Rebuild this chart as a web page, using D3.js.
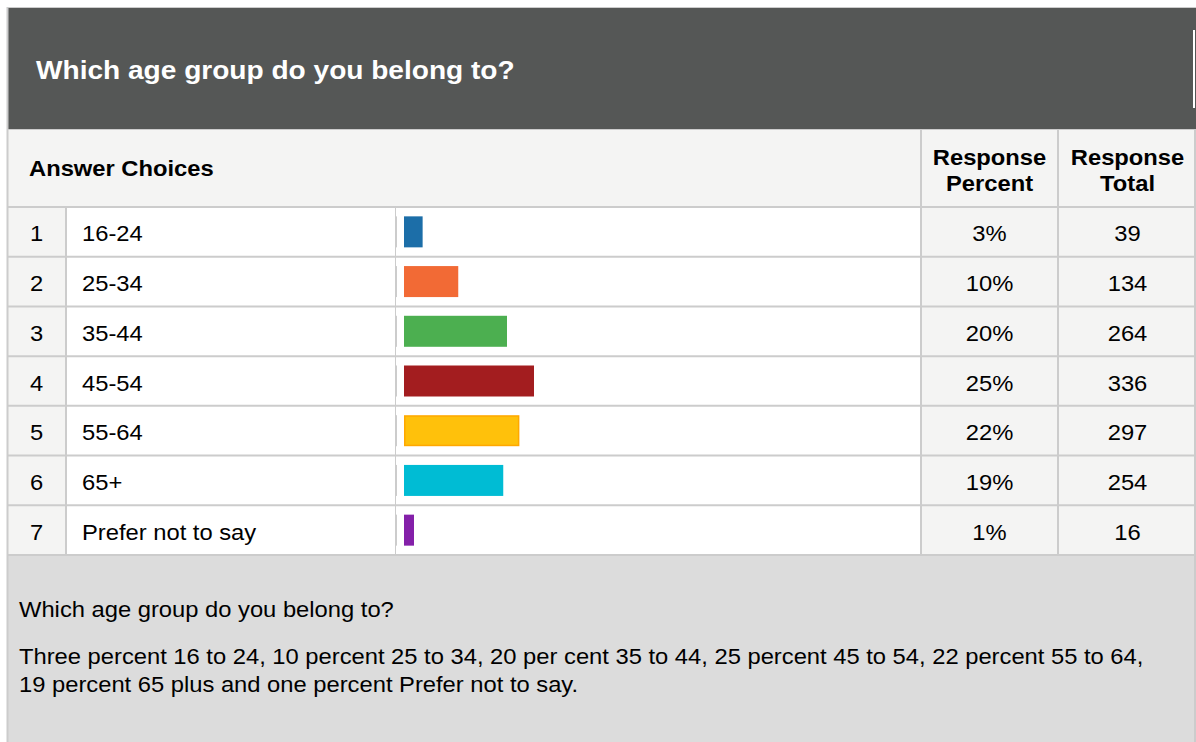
<!DOCTYPE html>
<html>
<head>
<meta charset="utf-8">
<script src="https://cdn.jsdelivr.net/npm/d3@7"></script>
<style>
  html, body { margin: 0; padding: 0; background: #ffffff; }
  svg { display: block; }
  text { font-family: "Liberation Sans", Arial, sans-serif; }
</style>
</head>
<body>
<div id="chart"></div>
<script>
// ---- Data ----
const title = "Which age group do you belong to?";
const rowNumbers = [1, 2, 3, 4, 5, 6, 7];
const categories = ["16-24", "25-34", "35-44", "45-54", "55-64", "65+", "Prefer not to say"];
const percents = [3, 10, 20, 25, 22, 19, 1];
const totals = [39, 134, 264, 336, 297, 254, 16];
const barColors = ["#1c6ea8", "#f26a35", "#4caf50", "#a31d1f", "#ffc10b", "#00bcd4", "#8420a9"];
const barStrokes = [null, null, null, null, "#ffa800", null, null];
const columnHeaders = ["Answer Choices", ["Response", "Percent"], ["Response", "Total"]];
const summaryTitle = "Which age group do you belong to?";
const summaryLines = [
  "Three percent 16 to 24, 10 percent 25 to 34, 20 per cent 35 to 44, 25 percent 45 to 54, 22 percent 55 to 64,",
  "19 percent 65 plus and one percent Prefer not to say."
];

// ---- Layout ----
const W = 1196, H = 742;
const SX = 1.08; // horizontal text stretch
const border = "#cccccc";
const shade = "#f4f4f3";

const svg = d3.select("#chart").append("svg").attr("width", W).attr("height", H);

function txt(g, x, y, s, size, weight, anchor, fill) {
  return g.append("text")
    .attr("transform", `translate(${x},${y}) scale(${SX},1)`)
    .attr("text-anchor", anchor || "start")
    .style("font-size", size + "px")
    .style("font-weight", weight || "normal")
    .attr("fill", fill || "#000")
    .text(s);
}

const L = 7, R = 1195;
const colNum = [L, 66], colLabel = [66, 396], colBar = [396, 921], colPct = [921, 1058], colTot = [1058, R];

// outer
svg.append("rect").attr("x", L).attr("y", 7).attr("width", R - L + 1).attr("height", H - 7).attr("fill", "#dcdcdc");

// header dark band
svg.append("rect").attr("x", L + 1).attr("y", 8).attr("width", W - L - 1).attr("height", 121).attr("fill", "#555756");
svg.append("rect").attr("x", 1193).attr("y", 30).attr("width", 2).attr("height", 78).attr("fill", "#ffffff");
svg.append("line").attr("x1", L).attr("x2", W).attr("y1", 7.5).attr("y2", 7.5).attr("stroke", border);
txt(svg, 36, 79, title, 26, "bold", "start", "#ffffff");

// column header row
const hdrTop = 130, hdrBot = 207;
svg.append("rect").attr("x", L + 1).attr("y", 129).attr("width", R - L).attr("height", 1.5).attr("fill", border);
svg.append("rect").attr("x", L + 1).attr("y", hdrTop).attr("width", R - L - 1).attr("height", hdrBot - hdrTop).attr("fill", shade);
txt(svg, 29, 176, columnHeaders[0], 22, "bold");
txt(svg, (colPct[0] + colPct[1]) / 2, 165, columnHeaders[1][0], 22, "bold", "middle");
txt(svg, (colPct[0] + colPct[1]) / 2, 191, columnHeaders[1][1], 22, "bold", "middle");
txt(svg, (colTot[0] + colTot[1]) / 2 + 1, 165, columnHeaders[2][0], 22, "bold", "middle");
txt(svg, (colTot[0] + colTot[1]) / 2 + 1, 191, columnHeaders[2][1], 22, "bold", "middle");

// rows
const y = d3.scaleBand().domain(categories).range([hdrBot, 555]);
const x = d3.scaleLinear().domain([0, d3.max(totals)]).range([4, 130]);
const barX0 = 404, barH = 31;

const rows = svg.append("g");
categories.forEach((c, i) => {
  const top = y(c), h = y.bandwidth();
  rows.append("rect").attr("x", colNum[0] + 1).attr("y", top).attr("width", colNum[1] - colNum[0] - 1).attr("height", h).attr("fill", shade);
  rows.append("rect").attr("x", colLabel[0]).attr("y", top).attr("width", colBar[1] - colLabel[0]).attr("height", h).attr("fill", "#ffffff");
  rows.append("rect").attr("x", colPct[0]).attr("y", top).attr("width", colTot[1] - colPct[0]).attr("height", h).attr("fill", shade);
});

// grid lines
const grid = svg.append("g").attr("stroke", border).attr("fill", "none");
[hdrBot].concat(categories.map(c => y(c) + y.bandwidth())).forEach(v => {
  grid.append("line").attr("x1", L).attr("x2", R).attr("y1", v).attr("y2", v).attr("stroke-width", 2);
});
grid.append("line").attr("x1", colNum[1]).attr("x2", colNum[1]).attr("y1", hdrBot).attr("y2", 555).attr("stroke-width", 2);
[colPct[0], colTot[0]].forEach(v => {
  grid.append("line").attr("x1", v).attr("x2", v).attr("y1", hdrTop).attr("y2", 555).attr("stroke-width", 2);
});
grid.append("line").attr("x1", colLabel[1] - 0.5).attr("x2", colLabel[1] - 0.5).attr("y1", hdrBot).attr("y2", 555).attr("stroke-width", 1);
grid.append("line").attr("x1", R).attr("x2", R).attr("y1", hdrTop).attr("y2", H).attr("stroke-width", 2);
grid.append("line").attr("x1", L + 0.5).attr("x2", L + 0.5).attr("y1", 7).attr("y2", H).attr("stroke-width", 2);

// bars
const bars = svg.append("g");
categories.forEach((c, i) => {
  const cy = y(c) + y.bandwidth() / 2;
  bars.append("rect").attr("x", colLabel[1] - 1).attr("y", cy - barH / 2).attr("width", 2).attr("height", barH).attr("fill", border);
  const r = bars.append("rect")
    .attr("y", cy - barH / 2)
    .attr("height", barH)
    .attr("fill", barColors[i]);
  if (barStrokes[i]) {
    r.attr("x", barX0 + 0.75).attr("y", cy - barH / 2 + 0.75).attr("height", barH - 1.5)
     .attr("width", x(totals[i]) - 1.5).attr("stroke", barStrokes[i]).attr("stroke-width", 1.5);
  } else {
    r.attr("x", barX0).attr("width", x(totals[i]));
  }
  const base = cy + 9.5;
  txt(svg, (colNum[0] + colNum[1]) / 2, base, String(rowNumbers[i]), 22, "normal", "middle");
  txt(svg, 82, base, c, 22);
  txt(svg, (colPct[0] + colPct[1]) / 2, base, percents[i] + "%", 22, "normal", "middle");
  txt(svg, (colTot[0] + colTot[1]) / 2 + 1, base, String(totals[i]), 22, "normal", "middle");
});

// summary
txt(svg, 19, 617, summaryTitle, 22);
summaryLines.forEach((s, i) => txt(svg, 19, 664 + i * 28, s, 22));
</script>
</body>
</html>
